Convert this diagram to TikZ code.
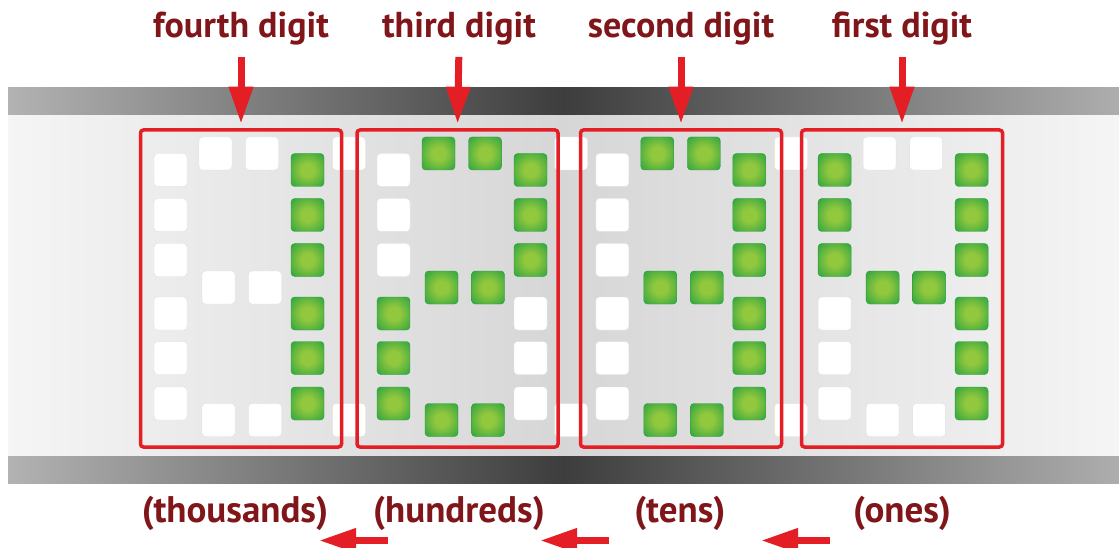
\documentclass[tikz,border=0pt]{standalone}
\usepackage{fontspec}
\setmainfont{PT Sans}
\usepackage{tikz}
\usetikzlibrary{arrows.meta}
\usetikzlibrary{positioning}

\definecolor{labelred}{RGB}{128,22,26}
\definecolor{arrowred}{RGB}{227,30,36}
\definecolor{ledin}{RGB}{146,200,62}
\definecolor{ledout}{RGB}{28,158,64}
\pgfdeclareradialshading{ledglow}{\pgfpointorigin}{color(0bp)=(ledin); color(10bp)=(ledin); color(40bp)=(ledout); color(50bp)=(ledout)}

\begin{document}
\begin{tikzpicture}[x=1pt,y=-1pt]
\tikzstyle{band} = [left color=black!30, right color=black!32, middle color=black!76]
\tikzstyle{panel} = [left color=black!4, right color=black!4, middle color=black!16]
\tikzstyle{digitbox} = [rectangle, draw=arrowred, line width=3.5pt, rounded corners=3pt,
minimum width=201pt, minimum height=317pt, inner sep=0pt]
\tikzstyle{seg} = [rectangle, rounded corners=3.5pt, minimum size=33pt, inner sep=0pt]
\tikzstyle{unlit} = [seg, fill=white, draw=black!12, line width=0.4pt]
\tikzstyle{lit} = [seg, shading=ledglow, draw=ledout, line width=0.3pt]
\tikzstyle{caption} = [font=\bfseries\fontsize{36}{40}\selectfont, text=labelred, inner sep=0pt, anchor=base]
\tikzstyle{unitcaption} = [caption, font=\bfseries\fontsize{37}{40}\selectfont]
\tikzstyle{redarrow} = [draw=arrowred, line width=7pt, -{Triangle[length=37pt,width=23pt]}]
\useasboundingbox (0,0) rectangle (1119,548);
% display strip
\shade[band] (8,88) rectangle (1119,116);
\shade[panel] (8,116) rectangle (1119,456);
\shade[band] (8,456) rectangle (1119,483);
% separator squares between the digits
\foreach \x [count=\i] in {349,571,791} {
\node[unlit] (sept\i) at (\x,153.5) {};
\node[unlit] (sepb\i) at (\x,420) {};
}
% digit frames
\node[digitbox] (box1) at (241,288.5) {};
\node[digitbox] (box2) at (457.5,288.5) {};
\node[digitbox] (box3) at (681,288.5) {};
\node[digitbox] (box4) at (902,288.5) {};
% segments: top, upper right, lower right, bottom, lower left, upper left, middle
\foreach \n/\xl/\ta/\ur/\lr/\bt/\ll/\ul/\md in {
1/170.5/unlit/lit/lit/unlit/unlit/unlit/unlit,
2/393.5/lit/lit/unlit/lit/lit/unlit/lit,
3/612.3/lit/lit/lit/lit/unlit/unlit/lit,
4/834.6/unlit/lit/lit/unlit/unlit/lit/lit}
{
\foreach \y [count=\k] in {170,215,260} {
\node[\ul] (d\n-ul\k) at (\xl,\y) {};
\node[\ur] (d\n-ur\k) at (\xl+137,\y) {};
}
\foreach \y [count=\k] in {313.5,358,403.5} {
\node[\ll] (d\n-ll\k) at (\xl,\y) {};
\node[\lr] (d\n-lr\k) at (\xl+137,\y) {};
}
\foreach \dx [count=\k] in {45,91.5}
\node[\ta] (d\n-ta\k) at (\xl+\dx,153.5) {};
\foreach \dx [count=\k] in {48,94.5} {
\node[\md] (d\n-md\k) at (\xl+\dx,287.5) {};
\node[\bt] (d\n-bt\k) at (\xl+\dx,420) {};
}
}
% labels above
\node[caption] (lab1) at (241,38) {fourth digit};
\node[caption] (lab2) at (459,38) {third digit};
\node[caption] (lab3) at (681,38) {second digit};
\node[caption] (lab4) at (902,38) {first digit};
\foreach \i in {1,...,4}
\draw[redarrow, shorten <=11pt, shorten >=4.5pt] (lab\i.south) -- (box\i.north);
% place values below
\node[unitcaption] (unit1) at (235,522) {(thousands)};
\node[unitcaption] (unit2) at (459,522) {(hundreds)};
\node[unitcaption] (unit3) at (680,522) {(tens)};
\node[unitcaption] (unit4) at (902,522) {(ones)};
\coordinate (from1) at (388,540.5);
\coordinate (to1) at (319,540.5);
\coordinate (from2) at (609,540.5);
\coordinate (to2) at (540,540.5);
\coordinate (from3) at (830,540.5);
\coordinate (to3) at (761,540.5);
\foreach \i in {1,2,3}
\draw[redarrow] (from\i) -- (to\i);
\end{tikzpicture}
\end{document}
